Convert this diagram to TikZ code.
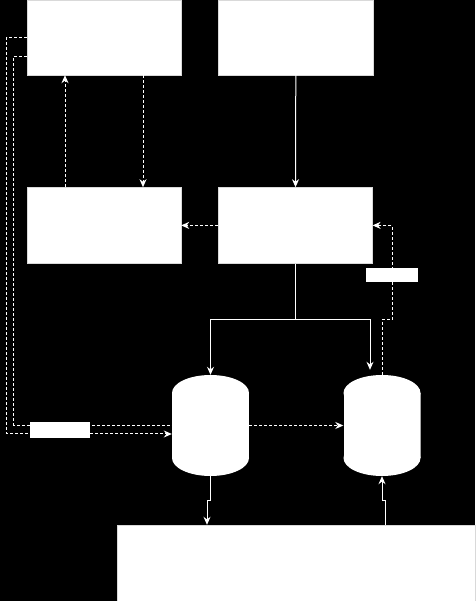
\documentclass[tikz,border=0pt]{standalone}
\usetikzlibrary{arrows.meta,positioning}
\pgfdeclarelayer{front}
\pgfsetlayers{main,front}
\tikzset{
	block/.style={
		rectangle,
		draw=black!15,
		fill=white,
		minimum width=154pt,
		minimum height=75pt,
	},
	tank/.style={
		rectangle,
		inner sep=0pt,
		minimum width=77pt,
		minimum height=101pt,
		path picture={
			\fill[white] ([yshift=-18pt]path picture bounding box.north west)
				rectangle ([yshift=18pt]path picture bounding box.south east);
			\fill[white] ([yshift=-18pt]path picture bounding box.north) ellipse (38.5pt and 18pt);
			\fill[white] ([yshift=18pt]path picture bounding box.south) ellipse (38.5pt and 18pt);
		},
	},
	tag/.style={
		rectangle,
		fill=white,
		inner sep=0pt,
	},
	flow/.style={
		draw=white,
		line width=1pt,
	},
	arc/.style={
		flow,
		-{Stealth[length=8pt,width=7pt]},
	},
	dline/.style={
		flow,
		dash pattern=on 3pt off 2pt,
	},
	darc/.style={
		arc,
		dash pattern=on 3pt off 2pt,
	}
}
\begin{document}
\begin{tikzpicture}[x=1pt,y=1pt,node distance=112pt and 37pt]
	\path[use as bounding box,fill=black] (0,0) rectangle (475,601);

	\node [block] (ctrl) at (104,563.5) {};
	\node [
      block,
      minimum width=155pt,
      right=of ctrl
    ] (src) {};
	\node [
      block,
      minimum height=76pt,
      below=of ctrl
    ] (calc) {};
	\node [
      block,
      minimum height=76pt,
      right=of calc
    ] (rec) {};
	\node [tank] (tank1) at (210.5,175.5) {};
	\node [tank] (tank2) at (382,175.5) {};
	\node [
      block,
      minimum width=358pt,
      minimum height=76pt
    ] (plant) at (296,38) {};

    \begin{pgfonlayer}{front}
	\node [
      tag,
      minimum width=52pt,
      minimum height=13.5pt
    ] (ratio) at (392,326) {};
	\node [
      tag,
      minimum width=60pt,
      minimum height=16pt
    ] (feed) at (60,170.5) {};
    \end{pgfonlayer}

    \draw[darc] ([xshift=-39pt]calc.north) -- ([xshift=-39pt]ctrl.south);
    \draw[darc] ([xshift=39pt]ctrl.south) -- ([xshift=39pt]calc.north);
    \draw[darc] (rec) -- (calc);
    \draw[arc] (src) -- (rec);

    \draw[flow] (rec.south) -- ++(0,-56.3) coordinate (split);
    \draw[arc] (split) -| (tank1.north);
    \draw[arc,shorten >=5pt] (split) -| ([xshift=-12pt]tank2.north);
    \draw[darc] (tank2.north) |- (ratio |- split) |- (rec.east);

    \draw[darc] (ctrl.west) -- ++(-20,0) |- ([yshift=-8.5pt]tank1.west);
    \draw[dline] ([yshift=-19pt]ctrl.west) -- ++(-13,0) |- (tank1.west);
    \draw[darc] (tank1.east) -- (tank2.west);

    \draw[arc] (tank1.south) -- ++(0,-24.5) -| ([xshift=-3.5pt]tank1.south |- plant.north);
    \draw[arc] ([xshift=3.5pt]tank2.south |- plant.north) -- ++(0,24.5) -| (tank2.south);
\end{tikzpicture}
\end{document}
